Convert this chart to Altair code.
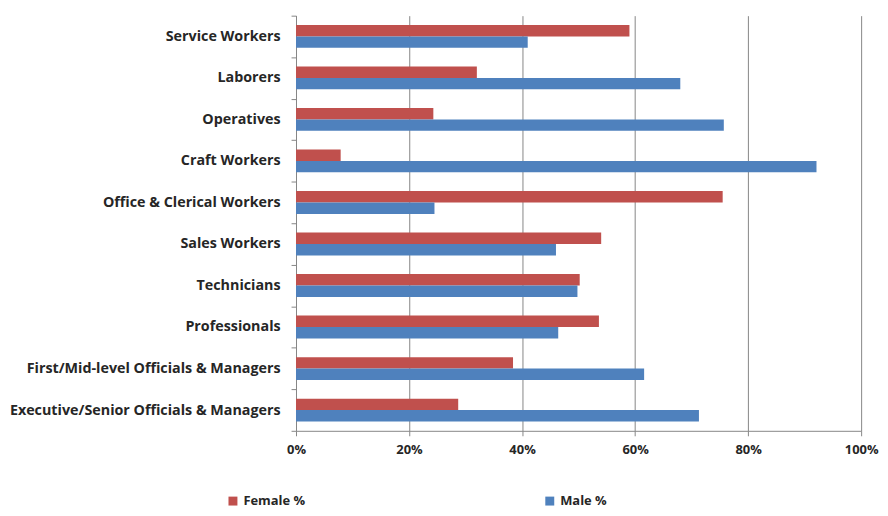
import altair as alt
import pandas as pd

categories = [
    "Service Workers",
    "Laborers",
    "Operatives",
    "Craft Workers",
    "Office & Clerical Workers",
    "Sales Workers",
    "Technicians",
    "Professionals",
    "First/Mid-level Officials & Managers",
    "Executive/Senior Officials & Managers",
]
female = [0.590, 0.320, 0.243, 0.079, 0.755, 0.540, 0.502, 0.536, 0.384, 0.287]
male = [0.410, 0.680, 0.757, 0.921, 0.245, 0.460, 0.498, 0.464, 0.616, 0.713]
series = ["Female %", "Male %"]
colors = ["#C0504D", "#4F81BD"]
x_ticks = [0, 0.2, 0.4, 0.6, 0.8, 1.0]

rows = []
for c, f, m in zip(categories, female, male):
    rows.append({"category": c, "series": series[0], "value": f})
    rows.append({"category": c, "series": series[1], "value": m})
df = pd.DataFrame(rows)

FONT = "Open Sans"
GREY = "#868686"
TEXT = "#262626"

chart = (
    alt.Chart(df)
    .mark_bar()
    .encode(
        x=alt.X(
            "value:Q",
            scale=alt.Scale(domain=[0, 1], nice=False),
            axis=alt.Axis(
                values=x_ticks,
                format=".0%",
                title=None,
                grid=True,
                gridColor=GREY,
                gridWidth=1,
                domainColor=GREY,
                tickColor=GREY,
                tickSize=5,
                labelPadding=8,
                labelFlush=False,
                labelFont=FONT,
                labelFontSize=13,
                labelFontWeight="bold",
                labelColor=TEXT,
            ),
        ),
        y=alt.Y(
            "category:N",
            sort=categories,
            scale=alt.Scale(paddingInner=0, paddingOuter=0),
            axis=alt.Axis(
                title=None,
                grid=False,
                domainColor=GREY,
                tickColor=GREY,
                tickSize=5,
                tickBand="extent",
                labelPadding=11,
                labelFont=FONT,
                labelFontSize=14.4,
                labelFontWeight="bold",
                labelColor=TEXT,
                labelLimit=400,
            ),
        ),
        yOffset=alt.YOffset(
            "series:N",
            sort=series,
            scale=alt.Scale(paddingInner=0, paddingOuter=0.82),
        ),
        color=alt.Color(
            "series:N",
            sort=series,
            scale=alt.Scale(domain=series, range=colors),
            legend=alt.Legend(
                title=None,
                orient="none",
                direction="horizontal",
                legendX=-70,
                legendY=482,
                symbolType="square",
                symbolSize=81,
                symbolStrokeWidth=0,
                labelFont=FONT,
                labelFontSize=13,
                labelFontWeight="bold",
                labelColor=TEXT,
                columnPadding=239,
                labelOffset=4,
            ),
        ),
    )
    .properties(
        width=569,
        height=418,
        autosize=alt.AutoSizeParams(type="none"),
        padding={"left": 290, "top": 6, "right": 19, "bottom": 76},
    )
    .configure_view(stroke=None)
)

chart.save("out.html", embed_options={"renderer": "svg", "actions": False})
